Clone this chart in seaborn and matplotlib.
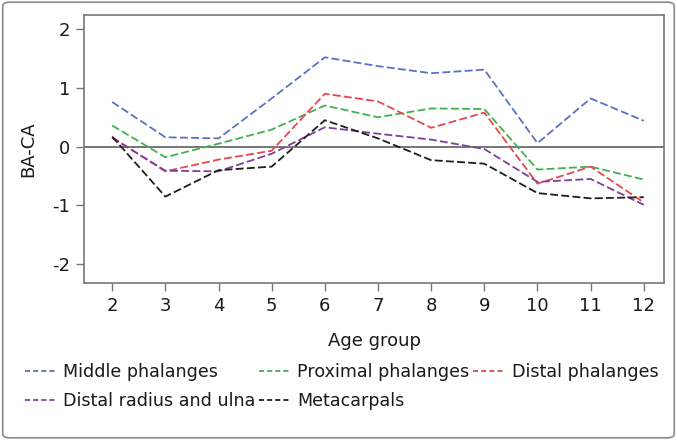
import numpy as np
import pandas as pd
import matplotlib
matplotlib.use("Agg")
import matplotlib.pyplot as plt
from matplotlib.patches import FancyBboxPatch
import seaborn as sns

# data
ages = [2, 3, 4, 5, 6, 7, 8, 9, 10, 11, 12]
middle = [0.76, 0.16, 0.14, 0.82, 1.52, 1.37, 1.25, 1.31, 0.06, 0.82, 0.44]
proximal = [0.36, -0.18, 0.05, 0.29, 0.70, 0.50, 0.65, 0.64, -0.39, -0.34, -0.56]
distal = [0.16, -0.42, -0.22, -0.07, 0.90, 0.77, 0.32, 0.58, -0.63, -0.34, -0.95]
radius_ulna = [0.15, -0.41, -0.42, -0.12, 0.33, 0.22, 0.12, -0.04, -0.60, -0.55, -0.99]
metacarpals = [0.17, -0.85, -0.40, -0.34, 0.45, 0.14, -0.23, -0.29, -0.79, -0.88, -0.86]

series_names = ["Middle phalanges", "Proximal phalanges", "Distal phalanges",
                "Distal radius and ulna", "Metacarpals"]
series_vals = [middle, proximal, distal, radius_ulna, metacarpals]
colors = ["#5a72c4", "#3fb24f", "#e8464e", "#7d3f9c", "#1e1e1e"]

df = pd.DataFrame({
    "age": ages * len(series_names),
    "value": sum(series_vals, []),
    "bone": np.repeat(series_names, len(ages)),
})

sns.set_style("white")
plt.rcParams["font.family"] = ["DejaVu Sans"]

fig = plt.figure(figsize=(6.77, 4.40), dpi=100)
ax = fig.add_axes([84 / 677, 1 - 283 / 440, (664 - 84) / 677, (283 - 15) / 440])

# outer rounded frame
fig.patches.append(FancyBboxPatch((0.004, 0.005), 0.992, 0.99, boxstyle="round,pad=0,rounding_size=0.01",
                                  transform=fig.transFigure, fill=False, edgecolor="#8a8a8a", lw=1.2))

ax.axhline(0, color="#777777", lw=1.4, zorder=1)

sns.lineplot(data=df, x="age", y="value", hue="bone", hue_order=series_names,
             palette=colors, ax=ax, lw=1.3, legend=False, zorder=3)
for line in ax.get_lines()[1:]:
    line.set_dashes([4.4, 1.8])

ax.set_xlim(1.47, 12.38)
ax.set_ylim(-2.32, 2.24)
ax.set_xticks(ages)
ax.set_yticks([-2, -1, 0, 1, 2])
ax.set_yticklabels(["-2", "-1", "0", "1", "2"])
ax.set_xlabel("Age group", fontsize=13, labelpad=12, color="#1a1a1a")
ax.set_ylabel("BA-CA", fontsize=13, labelpad=11, color="#1a1a1a")
ax.tick_params(axis="both", direction="out", length=6, width=1, color="#777777",
               labelsize=13, pad=4, left=True, bottom=True, labelcolor="#1a1a1a")
for s in ax.spines.values():
    s.set_color("#777777")
    s.set_linewidth(1.2)

# legend below, filled row by row
handles = []
for c in colors:
    h, = ax.plot([], [], color=c, lw=1.3, dashes=[2.8, 1.7])
    handles.append(h)
order = [0, 3, 1, 4, 2]
fig.legend([handles[i] for i in order], [series_names[i] for i in order],
           loc="upper left", bbox_to_anchor=(0.026, 0.19), ncol=3, frameon=False,
           fontsize=12.6, handlelength=1.8, handletextpad=0.4, columnspacing=0.2,
           labelspacing=0.6, borderaxespad=0, labelcolor="#1a1a1a")

fig.savefig("out.png", dpi=100)
